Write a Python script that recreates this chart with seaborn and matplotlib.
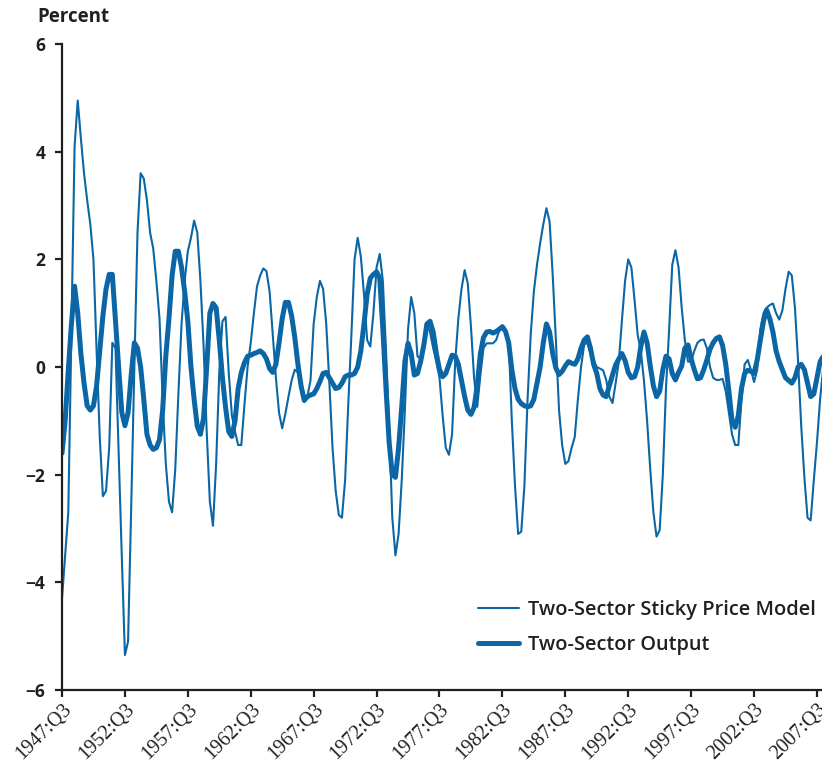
import numpy as np
import pandas as pd
import matplotlib
matplotlib.use('Agg')
import matplotlib.pyplot as plt
import matplotlib.transforms as mtransforms
import seaborn as sns

sns.set_style('ticks')

# tick labels every 5 years (20 quarters)
tick_labels = ['1947:Q3', '1952:Q3', '1957:Q3', '1962:Q3', '1967:Q3', '1972:Q3', '1977:Q3',
               '1982:Q3', '1987:Q3', '1992:Q3', '1997:Q3', '2002:Q3', '2007:Q3']

# quarterly values, 1947:Q3 onwards
model = [
    -4.3, -3.5, -2.7, 0.7, 4.1, 4.95, 4.25, 3.6, 3.1, 2.65,
    2.0, 0.3, -1.3, -2.4, -2.3, -1.5, 0.45, 0.35, -1.6, -3.5,
    -5.35, -5.1, -2.6, 0.0, 2.5, 3.6, 3.5, 3.1, 2.5, 2.2,
    1.6, 0.9, -0.6, -1.8, -2.5, -2.7, -1.9, -0.5, 0.8, 1.6,
    2.15, 2.4, 2.72, 2.5, 1.6, 0.4, -1.2, -2.5, -2.95, -1.8,
    -0.1, 0.85, 0.93, -0.1, -0.9, -1.2, -1.45, -1.45, -0.7, 0.0,
    0.45, 1.0, 1.5, 1.7, 1.83, 1.78, 1.4, 0.6, -0.2, -0.85,
    -1.14, -0.87, -0.55, -0.25, -0.05, -0.1, -0.4, -0.65, -0.55, -0.25,
    0.8, 1.3, 1.6, 1.45, 0.8, -0.3, -1.5, -2.3, -2.75, -2.8,
    -2.1, -0.7, 0.6, 2.0, 2.4, 2.05, 1.35, 0.5, 0.38, 1.0,
    1.85, 2.1, 1.6, 0.3, -1.1, -2.8, -3.5, -3.1, -2.1, -0.8,
    0.7, 1.3, 1.0, 0.2, 0.15, 0.45, 0.8, 0.65, 0.35, 0.1,
    -0.2, -0.9, -1.5, -1.63, -1.25, 0.1, 0.9, 1.45, 1.8, 1.55,
    0.75, -0.2, -0.74, -0.15, 0.35, 0.44, 0.44, 0.44, 0.5, 0.68,
    0.75, 0.62, 0.5, -1.0, -2.2, -3.1, -3.06, -2.2, -0.6, 0.6,
    1.4, 1.9, 2.3, 2.65, 2.95, 2.7, 1.7, 0.5, -0.8, -1.45,
    -1.8, -1.75, -1.5, -1.3, -0.6, 0.0, 0.42, 0.45, 0.25, 0.12,
    0.0, -0.03, -0.06, -0.24, -0.55, -0.67, -0.3, 0.1, 0.87, 1.6,
    2.0, 1.85, 1.25, 0.6, 0.3, -0.25, -1.0, -1.9, -2.7, -3.15,
    -3.03, -2.0, -0.4, 0.7, 1.9, 2.17, 1.85, 1.1, 0.5, 0.1,
    0.1, 0.3, 0.45, 0.5, 0.51, 0.35, 0.0, -0.2, -0.24, -0.24,
    -0.22, -0.45, -0.85, -1.25, -1.45, -1.45, -0.6, 0.05, 0.13, -0.05,
    -0.28, -0.05, 0.7, 1.0, 1.1, 1.15, 1.18, 1.0, 0.88, 1.05,
    1.45, 1.77, 1.7, 1.1, 0.1, -1.1, -2.05, -2.8, -2.85, -2.1,
    -1.4, -0.6, 0.0,
]

output = [
    -1.6, -1.0, -0.06, 0.8, 1.5, 1.0, 0.25, -0.3, -0.72, -0.8,
    -0.72, -0.35, 0.3, 0.95, 1.45, 1.72, 1.72, 0.85, 0.0, -0.84,
    -1.09, -0.85, -0.15, 0.45, 0.35, 0.0, -0.6, -1.25, -1.45, -1.53,
    -1.5, -1.35, -0.8, 0.2, 0.9, 1.7, 2.15, 2.15, 1.85, 1.4,
    0.85, 0.0, -0.6, -1.1, -1.25, -0.95, 0.0, 1.0, 1.18, 1.1,
    0.5, -0.2, -0.75, -1.2, -1.29, -1.0, -0.4, -0.1, 0.08, 0.2,
    0.22, 0.25, 0.27, 0.3, 0.25, 0.15, -0.03, -0.1, 0.05, 0.45,
    0.9, 1.2, 1.2, 0.95, 0.55, 0.05, -0.35, -0.62, -0.55, -0.52,
    -0.5, -0.4, -0.27, -0.12, -0.1, -0.2, -0.3, -0.4, -0.38, -0.3,
    -0.18, -0.15, -0.15, -0.12, 0.0, 0.3, 0.8, 1.35, 1.65, 1.72,
    1.77, 1.65, 0.7, -0.4, -1.4, -2.0, -2.05, -1.5, -0.74, 0.1,
    0.44, 0.25, -0.15, -0.12, 0.1, 0.4, 0.8, 0.85, 0.65, 0.25,
    -0.05, -0.18, -0.12, 0.05, 0.22, 0.2, 0.05, -0.25, -0.55, -0.8,
    -0.88, -0.75, -0.35, 0.25, 0.55, 0.65, 0.66, 0.63, 0.66, 0.7,
    0.75, 0.66, 0.45, -0.05, -0.4, -0.6, -0.68, -0.72, -0.74, -0.72,
    -0.6, -0.3, 0.0, 0.45, 0.8, 0.65, 0.25, -0.02, -0.14, -0.08,
    0.02, 0.1, 0.07, 0.05, 0.15, 0.35, 0.5, 0.56, 0.35, 0.05,
    -0.12, -0.4, -0.52, -0.55, -0.35, -0.15, 0.04, 0.15, 0.25, 0.12,
    -0.1, -0.2, -0.18, 0.0, 0.38, 0.65, 0.45, 0.02, -0.35, -0.55,
    -0.45, -0.05, 0.2, 0.15, -0.12, -0.24, -0.1, 0.02, 0.35, 0.41,
    0.15, -0.05, -0.22, -0.2, -0.05, 0.13, 0.33, 0.45, 0.53, 0.56,
    0.4, 0.05, -0.45, -1.0, -1.12, -0.9, -0.4, -0.12, -0.06, -0.08,
    -0.12, 0.13, 0.5, 0.85, 1.06, 0.9, 0.65, 0.3, 0.1, -0.05,
    -0.2, -0.25, -0.3, -0.2, 0.0, 0.05, -0.05, -0.3, -0.55, -0.5,
    -0.2, 0.1, 0.2,
]

df = pd.DataFrame({'quarter': np.arange(len(model)),
                   'model': model,
                   'output': output})

blue = '#0b66a6'
ink = '#231f20'
sans = 'Open Sans'

fig = plt.figure(figsize=(8.22, 7.63), dpi=100)
ax = fig.add_axes([62 / 822, 73 / 763, 760 / 822, 646 / 763])

sns.lineplot(data=df, x='quarter', y='model', ax=ax, color=blue, linewidth=1.5,
             label='Two-Sector Sticky Price Model')
sns.lineplot(data=df, x='quarter', y='output', ax=ax, color=blue, linewidth=3.6,
             label='Two-Sector Output')

ax.set_xlim(0, 241.6)
ax.set_ylim(-6, 6)
ax.set_xlabel('')
ax.set_ylabel('')

ax.set_yticks([-6, -4, -2, 0, 2, 4, 6])
ax.set_yticklabels(['\u22126', '\u22124', '\u22122', '0', '2', '4', '6'],
                   fontfamily=sans, fontweight='bold', fontsize=12.5, color=ink)
ax.set_xticks(np.arange(0, 241, 20))
ax.set_xticklabels(tick_labels, rotation=45, ha='right', rotation_mode='anchor',
                   fontfamily='Liberation Serif', fontsize=14.5, color=ink)
# nudge rotated labels a little to the right, as in the original
shift = mtransforms.ScaledTranslation(5 / 100, 0, fig.dpi_scale_trans)
for lab in ax.get_xticklabels():
    lab.set_transform(lab.get_transform() + shift)

for side in ['top', 'right']:
    ax.spines[side].set_visible(False)
for side in ['left', 'bottom']:
    ax.spines[side].set_linewidth(1.6)
    ax.spines[side].set_color(ink)
ax.tick_params(direction='out', length=5, width=1.6, color=ink)
ax.tick_params(axis='x', pad=2)
ax.tick_params(axis='y', pad=7)

fig.text(37 / 822, 1 - 17 / 763, 'Percent', fontfamily=sans, fontweight='bold',
         fontsize=13.5, color=ink, va='center', ha='left')

ax.legend(loc='upper left', bbox_to_anchor=(0.547, 0.139), frameon=False,
          handlelength=2.05, handletextpad=0.45, labelspacing=0.72,
          borderaxespad=0, borderpad=0,
          prop={'family': sans, 'weight': 'semibold', 'size': 14.4},
          labelcolor=ink)

fig.savefig('out.png', dpi=100)
